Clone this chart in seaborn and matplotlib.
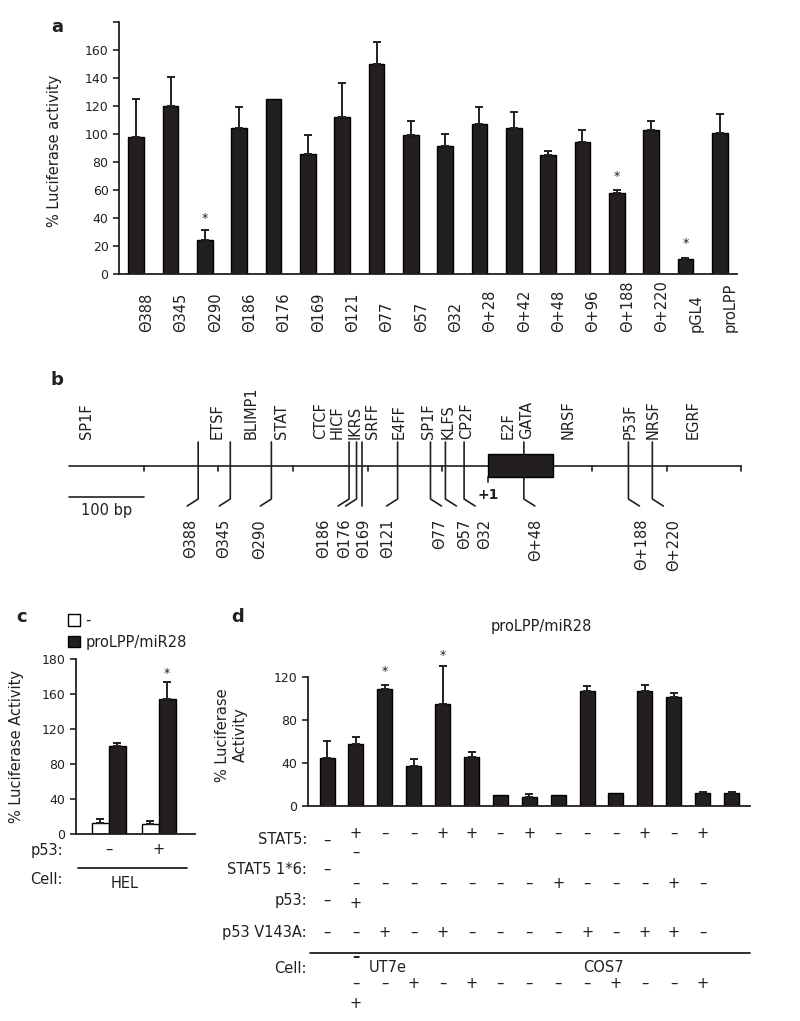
import numpy as np
import pandas as pd
import matplotlib
matplotlib.use("Agg")
import matplotlib.pyplot as plt
import matplotlib.transforms as mtrans
from matplotlib.patches import Rectangle, Patch
from matplotlib.lines import Line2D
import seaborn as sns

# ------------------------------------------------------------------ data
# panel a : deletion constructs
a_labels = ["Θ388", "Θ345", "Θ290", "Θ186", "Θ176", "Θ169", "Θ121", "Θ77", "Θ57",
            "Θ32", "Θ+28", "Θ+42", "Θ+48", "Θ+96", "Θ+188", "Θ+220", "pGL4", "proLPP"]
a_values = [98, 120, 24, 104.5, 125, 86, 112, 150, 99, 91.5, 107, 104.5, 85, 94, 57.5, 103, 10.7, 100.5]
a_errors = [27, 20.5, 7.5, 15, np.nan, 13, 24.5, 15.5, 10.3, 8.7, 12.5, 11.5, 2.6, 9, 2.4, 6.4, 1.0, 14]
a_star_idx = [2, 14, 16]
a_star_y = [40, 70, 22]

# panel b : promoter map (bp relative to +1)
b_del_pos = [-388, -345, -290, -186, -176, -169, -121, -77, -57, -32, 48, 188, 220]
b_tf_names = ["SP1F", "ETSF", "BLIMP1", "STAT", "CTCF", "HICF", "IKRS", "SRFF", "E4FF",
              "SP1F", "KLFS", "CP2F", "E2F", "GATA", "NRSF", "P53F", "NRSF", "EGRF"]
b_tf_pos = [-537, -362, -317, -276, -224, -202, -178, -155, -119,
            -80, -54, -28, 27, 52, 107, 190, 221, 274]
b_exon = [0, 87]
b_span = [-561, 339]
b_tick_step = 100

# panel c : HEL cells
c_p53 = ["–", "+"]
c_constructs = ["-", "proLPP/miR28"]
c_empty_values = [12.6, 10.7]
c_empty_errors = [4.2, 3.8]
c_prolpp_values = [100.6, 154.5]
c_prolpp_errors = [3.8, 19.1]
c_star_y = 184
c_ticks = [0, 40, 80, 120, 160, 200]
c_ticklabels = ["0", "40", "80", "120", "160", "180"]

# panel d : UT7e / COS7
d_values = [44.3, 57.6, 108.4, 37.2, 94.7, 45.8, 10.2, 8.4, 10.2, 106.8, 11.8, 106.8, 101.5, 12.4, 11.8]
d_errors = [16.4, 6.2, 4.6, 6.1, 35.3, 4.4, np.nan, 2.6, np.nan, 4.7, np.nan, 6.2, 3.5, 0.6, 1.2]
d_star_idx = [2, 4]
d_star_y = [125, 140]
d_row_labels = ["STAT5:", "STAT5 1*6:", "p53:", "p53 V143A:", "Cell:"]
d_stat5 = ["–", "+", "–", "–", "+", "+", "–", "+", "–", "–", "–", "+", "–", "+"]
d_stat5_16 = ["–", "–", "–", "–", "–", "–", "–", "–", "+", "–", "–", "–", "+", "–"]
d_p53 = ["–", "+"]
d_p53v = ["–", "–", "+", "–", "+", "–", "–", "–", "–", "+", "–", "+", "+", "–"]
d_cell_row = ["–", "–", "+", "–", "+", "–", "–", "–", "–", "+", "–", "–", "+"]
d_cells = ["UT7e", "COS7"]

# ------------------------------------------------------------------ style
sns.set_style("ticks")
plt.rcParams["font.family"] = ["DejaVu Sans"]
INK = "#231f20"
plt.rcParams.update({
    "text.color": INK, "axes.labelcolor": INK, "xtick.color": INK, "ytick.color": INK,
    "axes.edgecolor": INK, "axes.linewidth": 1.3,
    "ytick.major.size": 4, "ytick.major.width": 1.2, "ytick.labelsize": 9,
})
BAR = "#231f20"
FS = 10.5

W, H = 800, 1021
fig = plt.figure(figsize=(W / 100, H / 100), dpi=100)
fx = lambda px: px / W
fy = lambda py: 1 - py / H


def add_errors(ax, bars, errs):
    for p, e in zip(bars, errs):
        if np.isnan(e):
            continue
        x = p.get_x() + p.get_width() / 2
        ax.errorbar(x, p.get_height(), yerr=[[0], [e]], fmt="none", ecolor=INK,
                    elinewidth=1.4, capsize=3, capthick=1.4, clip_on=False, zorder=3)


# ------------------------------------------------------------------ panel a
ax_a = fig.add_axes([fx(119), fy(274), (737 - 119) / W, (274 - 22) / H])
df_a = pd.DataFrame({"construct": a_labels, "activity": a_values})
sns.barplot(data=df_a, x="construct", y="activity", order=a_labels, color=BAR,
            edgecolor="black", linewidth=1, width=0.45, saturation=1, errorbar=None, ax=ax_a)
add_errors(ax_a, ax_a.containers[0], a_errors)
ax_a.set_xlim(-0.5, len(a_labels) - 0.5)
ax_a.set_ylim(0, 180)
ax_a.set_yticks(np.arange(0, 181, 20))
ax_a.set_yticklabels([str(v) if v < 180 else "" for v in range(0, 181, 20)])
ax_a.tick_params(axis="x", length=0, labelbottom=False)
ax_a.set_xlabel("")
ax_a.set_ylabel("% Luciferase activity", fontsize=FS)
ax_a.yaxis.set_label_coords(-0.092, 0.49)
sns.despine(ax=ax_a)
tr_a = mtrans.blended_transform_factory(ax_a.transData, ax_a.transAxes)
for i, lab in enumerate(a_labels):
    ax_a.text(i + 0.3, -0.23, lab, rotation=90, ha="center", va="bottom",
              fontsize=FS, transform=tr_a)
for i, y in zip(a_star_idx, a_star_y):
    ax_a.text(i, y, "*", ha="center", va="center", fontsize=9)
fig.text(fx(57), fy(27), "a", fontsize=13, fontweight="bold", ha="center", va="center")

# ------------------------------------------------------------------ panel b
PXBP = 0.747
ax_b = fig.add_axes([0, fy(600), 1, 260 / H])
ax_b.set_xlim(-488 / PXBP, (W - 488) / PXBP)
ax_b.set_ylim(600, 340)
ax_b.axis("off")
LW = 1.2
ax_b.plot(b_span, [466, 466], color=INK, lw=LW)
for t in np.arange(b_span[0] + b_tick_step, b_span[1] + 1, b_tick_step):
    ax_b.plot([t, t], [466, 471], color=INK, lw=LW)
ax_b.add_patch(Rectangle((b_exon[0], 454), b_exon[1] - b_exon[0], 23,
                         facecolor=BAR, edgecolor="black", lw=1, zorder=4))
ax_b.plot([b_exon[0], b_exon[0]], [477, 482], color=INK, lw=LW)
b_dir = [-1, -1, -1, -1, -1, 0, -1, 1, 1, 1, 1, 1, 1]
b_lab_off = [-8, -7, -12, -25, -12, 2, -10, 9, 19, 21, 12, 13, 21]
for pos, d, off in zip(b_del_pos, b_dir, b_lab_off):
    ax_b.plot([pos, pos, pos + d * 11 / PXBP], [442, 499, 506], color=INK, lw=LW)
    lab = f"Θ{abs(pos)}" if pos < 0 else f"Θ+{pos}"
    ax_b.text(pos + off / PXBP, 519, lab, rotation=90, ha="center", va="top", fontsize=FS)
for name, pos in zip(b_tf_names, b_tf_pos):
    ax_b.text(pos, 439, name, rotation=90, ha="center", va="bottom", fontsize=FS)
ax_b.plot([b_span[0], b_span[0] + 100], [497, 497], color=INK, lw=LW)
ax_b.text(b_span[0] + 50, 511, "100 bp", ha="center", va="center", fontsize=FS)
ax_b.text(b_exon[0], 495, "+1", ha="center", va="center", fontsize=10, fontweight="bold")
fig.text(fx(57), fy(380), "b", fontsize=13, fontweight="bold", ha="center", va="center")

# ------------------------------------------------------------------ panel c
ax_c = fig.add_axes([fx(76), fy(833.7), (195 - 76) / W, (833.7 - 659.3) / H])
df_c = pd.DataFrame({
    "p53": c_p53 * 2,
    "construct": [c_constructs[0]] * 2 + [c_constructs[1]] * 2,
    "activity": c_empty_values + c_prolpp_values,
})
sns.barplot(data=df_c, x="p53", y="activity", hue="construct", order=c_p53,
            hue_order=c_constructs, palette={c_constructs[0]: "white", c_constructs[1]: BAR},
            edgecolor="black", linewidth=1, width=0.68, saturation=1, errorbar=None,
            legend=False, ax=ax_c)
add_errors(ax_c, ax_c.containers[0], c_empty_errors)
add_errors(ax_c, ax_c.containers[1], c_prolpp_errors)
ax_c.set_xlim(-0.65, 1.73)
ax_c.set_ylim(0, 200)
ax_c.set_yticks(c_ticks)
ax_c.set_yticklabels(c_ticklabels)
ax_c.tick_params(axis="x", length=0, labelbottom=False)
ax_c.set_xlabel("")
ax_c.set_ylabel("% Luciferase Activity", fontsize=FS)
ax_c.yaxis.set_label_coords(-0.437, 0.50)
sns.despine(ax=ax_c)
c_bar_x = ax_c.containers[1][1].get_x() + ax_c.containers[1][1].get_width() / 2
ax_c.text(c_bar_x, c_star_y, "*", ha="center", va="center", fontsize=9)
handles = [Patch(facecolor="white", edgecolor="black", lw=1),
           Patch(facecolor=BAR, edgecolor="black", lw=1)]
fig.legend(handles, c_constructs, loc="upper left", bbox_to_anchor=(fx(68), fy(613)),
           frameon=False, fontsize=FS, handlelength=0.8, handleheight=0.8,
           handletextpad=0.4, labelspacing=0.45, borderpad=0, borderaxespad=0)
tr_c = mtrans.blended_transform_factory(ax_c.transData, fig.transFigure)
fig.text(fx(63), fy(850), "p53:", ha="right", va="center", fontsize=FS)
for i, s in enumerate(c_p53):
    fig.text(i, fy(849), s, ha="center", va="center", fontsize=FS, transform=tr_c)
fig.add_artist(Line2D([fx(78), fx(187)], [fy(868), fy(868)], color=INK, lw=1.3,
                      transform=fig.transFigure))
fig.text(fx(63), fy(879), "Cell:", ha="right", va="center", fontsize=FS)
fig.text(fx(125), fy(883), "HEL", ha="center", va="center", fontsize=FS)
fig.text(fx(22), fy(617), "c", fontsize=13, fontweight="bold", ha="center", va="center")

# ------------------------------------------------------------------ panel d
ax_d = fig.add_axes([fx(308), fy(806), (750 - 308) / W, 129 / H])
df_d = pd.DataFrame({"condition": np.arange(len(d_values)), "activity": d_values})
sns.barplot(data=df_d, x="condition", y="activity", color=BAR, edgecolor="black",
            linewidth=1, width=0.52, saturation=1, errorbar=None, ax=ax_d)
add_errors(ax_d, ax_d.containers[0], d_errors)
ax_d.set_xlim(-0.66, 14.64)
ax_d.set_ylim(0, 120)
ax_d.set_yticks([0, 40, 80, 120])
ax_d.tick_params(axis="x", length=0, labelbottom=False)
ax_d.set_xlabel("")
ax_d.set_ylabel("% Luciferase\nActivity", fontsize=FS, linespacing=1.2)
ax_d.yaxis.set_label_coords(-0.136, 0.55)
sns.despine(ax=ax_d)
for i, y in zip(d_star_idx, d_star_y):
    ax_d.text(i, y, "*", ha="center", va="center", fontsize=9, clip_on=False)
fig.text(fx(541), fy(626), "proLPP/miR28", ha="center", va="center", fontsize=FS)
fig.text(fx(238), fy(617), "d", fontsize=13, fontweight="bold", ha="center", va="center")

tr_d = mtrans.blended_transform_factory(ax_d.transData, fig.transFigure)


def sym(col, ypx, s, **kw):
    fig.text(col, fy(ypx), s, ha="center", va="center", fontsize=FS, transform=tr_d, **kw)


for lab, ypx in zip(d_row_labels, [840, 869, 900, 932, 968]):
    fig.text(fx(307), fy(ypx), lab, ha="right", va="center", fontsize=FS)
# STAT5 row
sym(0, 840, d_stat5[0])
for c, s in enumerate(d_stat5[1:], start=1):
    sym(c, 833, s)
sym(1, 852, "–")
# STAT5 1*6 row
sym(0, 869, d_stat5_16[0])
for c, s in enumerate(d_stat5_16[1:], start=1):
    sym(c, 883, s)
# p53 row
sym(0, 900, d_p53[0])
sym(1, 903, d_p53[1])
# p53 V143A row
for c, s in enumerate(d_p53v):
    sym(c, 932, s)
fig.add_artist(Line2D([fx(310), fx(750)], [fy(953), fy(953)], color=INK, lw=1.3,
                      transform=fig.transFigure))
sym(1, 956, "–", fontweight="bold")
sym(2.1, 967, d_cells[0])
sym(9.55, 967, d_cells[1])
for c, s in enumerate(d_cell_row, start=1):
    sym(c, 983, s)
sym(1, 1003, "+")

fig.savefig("out.png", dpi=100)
